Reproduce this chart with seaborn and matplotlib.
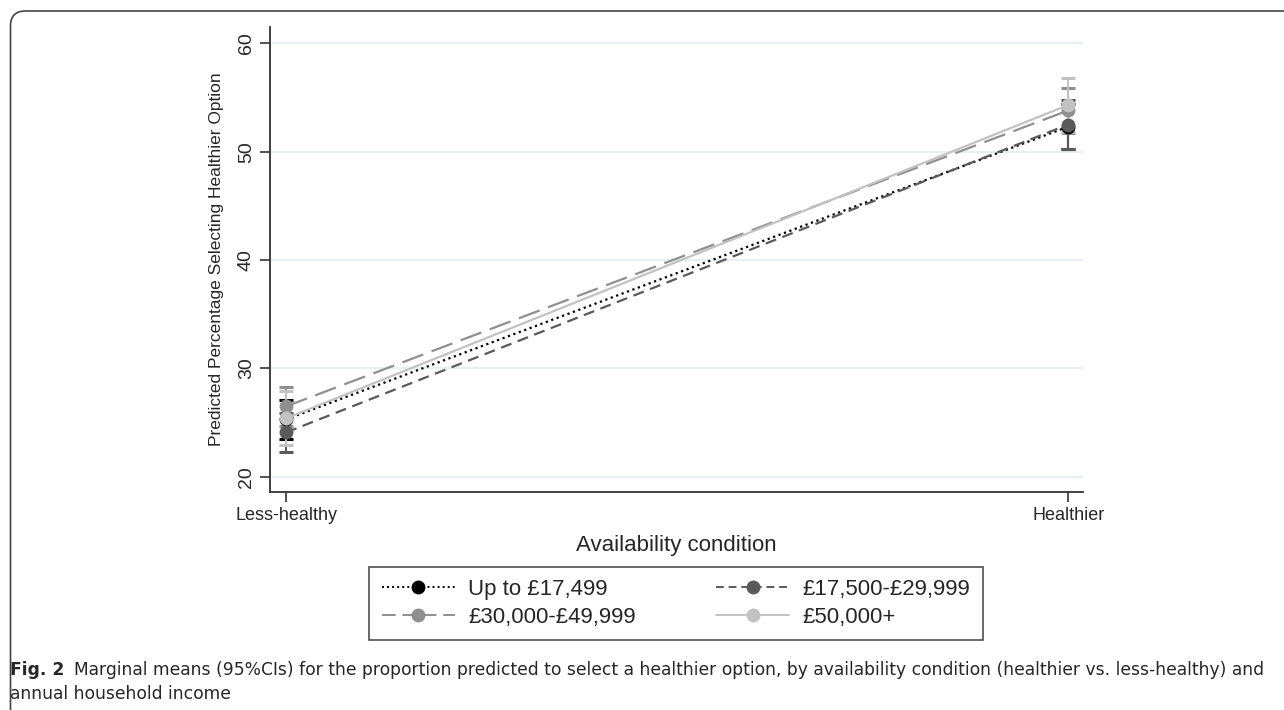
import numpy as np
import pandas as pd
import seaborn as sns
import matplotlib.pyplot as plt
from matplotlib.lines import Line2D
from matplotlib.patches import FancyBboxPatch

# values
conditions = ["Less-healthy", "Healthier"]
groups = ["Up to £17,499", "£17,500-£29,999", "£30,000-£49,999", "£50,000+"]
mean_less = [25.3, 24.1, 26.5, 25.4]
mean_health = [52.3, 52.5, 53.8, 54.3]
lo_less = [23.5, 22.3, 24.7, 22.9]
hi_less = [27.1, 25.9, 28.3, 27.9]
lo_health = [50.2, 50.2, 51.7, 51.8]
hi_health = [54.4, 54.8, 55.9, 56.8]

colors = ["#000000", "#5a5a5a", "#8f8f8f", "#c2c2c2"]
dash_list = [(1, 1.6), (5, 3), (10, 4), ""]
leg_dashes = [(1, 1.6), (4, 2.5), (7, 3.5), (None, None)]

rows = []
for i, g in enumerate(groups):
    rows.append({"group": g, "x": 0, "y": mean_less[i], "lo": lo_less[i], "hi": hi_less[i]})
    rows.append({"group": g, "x": 1, "y": mean_health[i], "lo": lo_health[i], "hi": hi_health[i]})
df = pd.DataFrame(rows)

sns.set_theme(style="white")
plt.rcParams['font.family'] = ['Liberation Sans', 'DejaVu Sans']

fig = plt.figure(figsize=(12.84, 7.10), dpi=100)
ax = fig.add_axes([0.2103, 0.307, 0.6332, 0.655])

# confidence intervals first
for i, g in enumerate(groups):
    d = df[df.group == g]
    ax.errorbar(d.x, d.y, yerr=[d.y - d.lo, d.hi - d.y], fmt="none",
                ecolor=colors[i], elinewidth=1.5, capsize=5, capthick=2.2, zorder=2)

sns.lineplot(data=df, x="x", y="y", hue="group", style="group",
             hue_order=groups, style_order=groups,
             palette=dict(zip(groups, colors)),
             dashes=dict(zip(groups, dash_list)),
             markers=dict(zip(groups, ["o"] * 4)),
             markersize=10, markeredgewidth=0, linewidth=1.6,
             legend=False, ax=ax, zorder=3)

ax.set_xlim(-0.0205, 1.019)
ax.set_ylim(18.6, 61.5)
ax.set_xticks([0, 1])
ax.set_xticklabels(conditions, fontsize=13)
ax.set_yticks([20, 30, 40, 50, 60])
ax.set_yticklabels(["20", "30", "40", "50", "60"], fontsize=14, rotation=90, va="center")
ax.tick_params(axis="both", direction="out", length=7, width=1.2, color="#333333", bottom=True, left=True)
ax.tick_params(axis="y", pad=4)
ax.grid(axis="y", color="#e6eff1", linewidth=1.5)
ax.grid(axis="x", visible=False)
for side in ["top", "right"]:
    ax.spines[side].set_visible(False)
for side in ["left", "bottom"]:
    ax.spines[side].set_color("#333333")
    ax.spines[side].set_linewidth(1.3)
ax.set_xlabel("Availability condition", fontsize=16, labelpad=8)
ax.set_ylabel("Predicted Percentage Selecting Healthier Option", fontsize=12.5, labelpad=10)

handles = [Line2D([], [], color=colors[i], dashes=leg_dashes[i],
                  linestyle="-", linewidth=1.4, marker="o", markersize=10, markeredgewidth=0)
           for i in range(4)]
# legend fills by column, so reorder to get rows of two
order = [0, 2, 1, 3]
leg = fig.legend([handles[i] for i in order], [groups[i] for i in order],
                 loc="upper center", bbox_to_anchor=(0.5265, 0.2014), borderaxespad=0,
                 ncol=2, fontsize=16, frameon=True, fancybox=False, edgecolor="#222222",
                 handlelength=3.3, columnspacing=3.6, handletextpad=0.6, borderpad=0.55,
                 labelspacing=0.3)
leg.get_frame().set_linewidth(1.2)

# caption
cap_font = ['DejaVu Sans Condensed', 'DejaVu Sans']
t1 = fig.text(0.0078, 1 - 675 / 710, "Fig. 2", fontsize=12.3, fontweight="bold",
              family=cap_font, va="baseline")
ax.annotate("Marginal means (95%CIs) for the proportion predicted to select a healthier option, "
            "by availability condition (healthier vs. less-healthy) and",
            xy=(1, 0), xycoords=t1, xytext=(7, 0), textcoords="offset points",
            fontsize=12.3, family=cap_font, va="bottom", annotation_clip=False)
fig.text(0.0078, 1 - 699 / 710, "annual household income", fontsize=12.3,
         family=cap_font, va="baseline")

frame = FancyBboxPatch((10.5, -60), 2000, 60 + 699, boxstyle="round,pad=0,rounding_size=15",
                       transform=None, fill=False, edgecolor="#444444", linewidth=1.2)
fig.patches.append(frame)

fig.savefig("out.png", dpi=100)
